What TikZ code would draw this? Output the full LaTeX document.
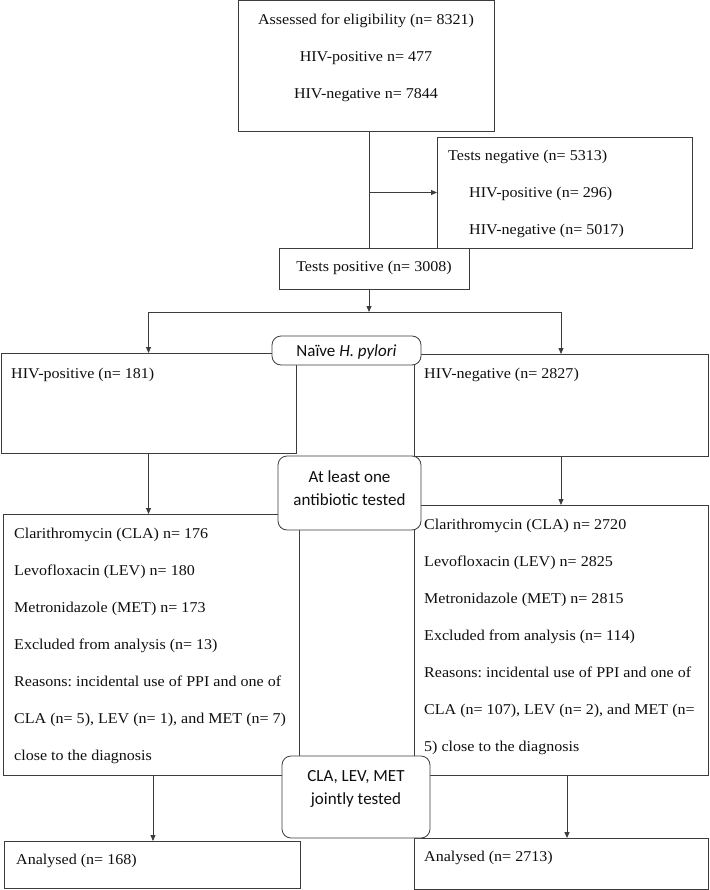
\documentclass[tikz,border=0pt]{standalone}
\usepackage{fontspec}
\setmainfont{Liberation Serif}[FakeStretch=1.07]
\newfontfamily\calfont{Carlito}
\usetikzlibrary{arrows.meta, positioning, calc}
\definecolor{cLine}{RGB}{60,60,60}
\definecolor{cText}{RGB}{15,15,15}
\frenchspacing
\tikzset{
	box/.style ={rectangle, draw=cLine, line width=0.8pt, inner sep=0pt, outer sep=0pt},
	tag/.style ={rectangle, rounded corners=9pt, draw=cLine, line width=0.8pt, fill=white, inner sep=0pt, outer sep=0pt},
	txt/.style ={inner sep=0pt, align=left, text=cText, font={\fontsize{15}{37}\selectfont}},
	tagtxt/.style={inner sep=0pt, align=center, text=cText, font={\calfont\fontsize{17}{23}\selectfont}},
	flow/.style={-{Triangle[length=6pt, width=5pt]}, draw=cLine, line width=0.8pt},
	ln/.style  ={draw=cLine, line width=0.8pt},
}
\begin{document}
\begin{tikzpicture}[x=1pt, y=-1pt]
	\useasboundingbox (0,0) rectangle (709,890);
	% boxes
	\node[box, minimum width=256pt, minimum height=131pt] (elig) at (366,66) {};
	\node[box, minimum width=255pt, minimum height=111pt] (testneg) at (564.5,192.5) {};
	\node[box, minimum width=190pt, minimum height=41pt] (testpos) at (374,268.5) {};
	\node[box, minimum width=295pt, minimum height=100pt] (hivpos) at (148.5,403) {};
	\node[box, minimum width=294pt, minimum height=102pt] (hivneg) at (561,405) {};
	\node[box, minimum width=296pt, minimum height=261pt] (lowpos) at (151,644.5) {};
	\node[box, minimum width=294pt, minimum height=270pt] (lowneg) at (561,640) {};
	\node[box, minimum width=296pt, minimum height=47pt] (anapos) at (152,864.5) {};
	\node[box, minimum width=294pt, minimum height=51pt] (ananeg) at (561,863.5) {};
	% texts
	\node[txt, align=center] (eligT) at (366,58) {Assessed for eligibility (n= 8321)\\HIV-positive n= 477\\HIV-negative n= 7844};
	\node[txt, anchor=west] (testnegT) at (448,194) {Tests negative (n= 5313)\\\hspace*{21pt}HIV-positive (n= 296)\\\hspace*{21pt}HIV-negative (n= 5017)};
	\node[txt] (testposT) at (374,268) {Tests positive (n= 3008)};
	\node[txt, anchor=west] (hivposT) at (11,375) {HIV-positive (n= 181)};
	\node[txt, anchor=west] (hivnegT) at (424,375) {HIV-negative (n= 2827)};
	\node[txt, anchor=west] (lowposT) at (14,645.5) {Clarithromycin (CLA) n= 176\\Levofloxacin (LEV) n= 180\\Metronidazole (MET) n= 173\\Excluded from analysis (n= 13)\\Reasons: incidental use of PPI and one of\\CLA (n= 5), LEV (n= 1), and MET (n= 7)\\close to the diagnosis};
	\node[txt, anchor=west] (lownegT) at (424,636.5) {Clarithromycin (CLA) n= 2720\\Levofloxacin (LEV) n= 2825\\Metronidazole (MET) n= 2815\\Excluded from analysis (n= 114)\\Reasons: incidental use of PPI and one of\\CLA (n= 107), LEV (n= 2), and MET (n=\\5) close to the diagnosis};
	\node[txt, anchor=west] (anaposT) at (16,861) {Analysed (n= 168)};
	\node[txt, anchor=west] (ananegT) at (424,858) {Analysed (n= 2713)};
	% connectors
	\coordinate (split) at (369,312);
	\draw[ln] (elig.south -| split) -- (testpos.north -| split);
	\draw[flow] (split |- testneg.west) -- (testneg.west);
	\draw[flow] (testpos.south -| split) -- (split);
	\draw[flow] (split) -| (hivpos.north);
	\draw[flow] (split) -| (hivneg.north);
	\draw[flow] (hivpos.south) -- (lowpos.north -| hivpos.south);
	\draw[flow] (hivneg.south) -- (lowneg.north -| hivneg.south);
	\draw[flow] ($(lowpos.south)+(2,0)$) -- ($(anapos.north)+(1,0)$);
	\draw[flow] ($(lowneg.south)+(6,0)$) -- ($(ananeg.north)+(6,0)$);
	% rounded tags on top
	\node[tag, minimum width=149pt, minimum height=29pt] (naive) at (346.5,350.5) {};
	\node[tag, minimum width=143pt, minimum height=74pt] (atleast) at (349.5,493) {};
	\node[tag, minimum width=148pt, minimum height=82pt] (joint) at (356,797) {};
	\node[tagtxt] (naiveT) at (346.5,352) {Naïve \textit{H. pylori}};
	\node[tagtxt] (atleastT) at (349.5,488) {At least one\\antibiotic tested};
	\node[tagtxt] (jointT) at (356,789) {CLA, LEV, MET\\jointly tested};
\end{tikzpicture}
\end{document}
